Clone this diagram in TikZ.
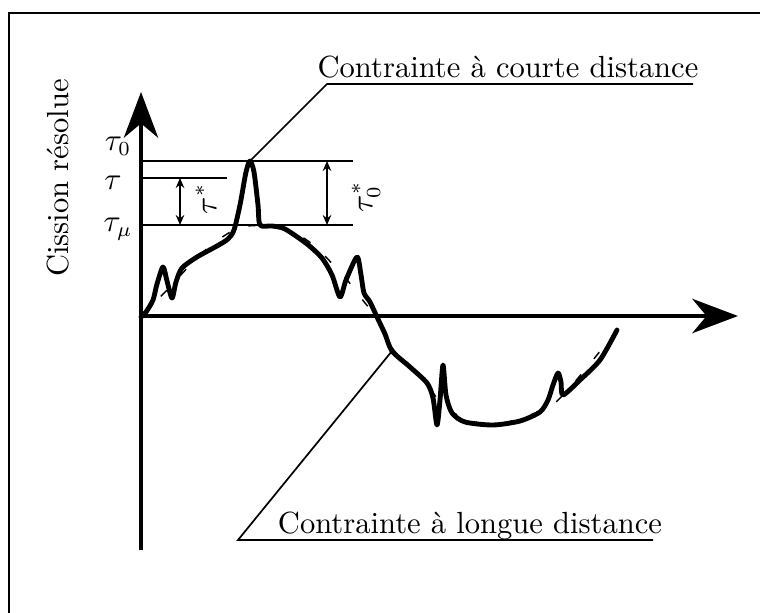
\documentclass[tikz,border=0pt]{standalone}
\usepackage{tikz}
\usetikzlibrary{arrows.meta}

\begin{document}
\begin{tikzpicture}[
  x=0.35pt, y=-0.35pt,
  every node/.style={font=\fontsize{10.7}{13}\selectfont, inner sep=0pt},
  frameline/.style={line width=1pt},
  axis/.style={line width=1.4pt, -{Stealth[length=16pt, width=12pt, inset=5pt]}},
  guide/.style={line width=0.5pt},
  gap/.style={line width=0.5pt, {Stealth[length=3.5pt, width=3pt]}-{Stealth[length=3.5pt, width=3pt]}},
  stress/.style={line width=1.7pt, line join=round, line cap=round},
  longrange/.style={line width=0.5pt, dash pattern=on 3pt off 7pt},
  leader/.style={line width=0.6pt},
]
  \useasboundingbox (0,0) rectangle (760,613);

  % scanned frame (only left and top edges)
  \coordinate (fbl) at (9,613);
  \coordinate (ftl) at (9,13);
  \coordinate (ftr) at (760,13);
  \draw[frameline] (fbl) -- (ftl) -- (ftr);

  % axes
  \coordinate (orig) at (141,316);
  \coordinate (ybot) at (141,550);
  \coordinate (ytip) at (141,92);
  \coordinate (xtip) at (738,316);
  \draw[axis] (ybot) -- (ytip);
  \draw[axis] (orig) -- (xtip);

  \node[rotate=90] (ylabel) at (58,178) {Cission résolue};

  % stress levels
  \coordinate (h0a) at (141,161);  \coordinate (h0b) at (353,161);
  \coordinate (h1a) at (141,178);  \coordinate (h1b) at (227,178);
  \coordinate (h2a) at (141,225);  \coordinate (h2b) at (353,225);
  \draw[guide] (h0a) -- (h0b);
  \draw[guide] (h1a) -- (h1b);
  \draw[guide] (h2a) -- (h2b);

  \node (ltau0)  at (118,146) {$\tau_0$};
  \node (ltau)   at (113,183) {$\tau$};
  \node (ltaumu) at (118,229) {$\tau_\mu$};

  \coordinate (g1t) at (180,178);  \coordinate (g1b) at (180,225);
  \coordinate (g2t) at (327,161);  \coordinate (g2b) at (327,225);
  \draw[gap] (g1t) -- (g1b);
  \draw[gap] (g2t) -- (g2b);
  \node[rotate=90] (lstar)  at (206,199) {$\tau^*$};
  \node[rotate=90] (lstar0) at (366,197) {$\tau^*_0$};

  % long range part, seen under the peaks
  \draw[longrange] plot[smooth, tension=0.6] coordinates {
    (141,317) (167,290) (208,248) (248,226) (300,236) (340,272)
    (365,303) (377,317) (393,349) (427,385) (445,408) (467,418)
    (493,425) (540,411) (565,393) (617,330)};

  % resolved shear stress
  \coordinate (peak) at (250,161);
  \coordinate (knee) at (392,351);
  \draw[stress] plot[smooth, tension=0.45] coordinates {
    (141,317) (146,312) (153,300) (157,284) (163,267) (167,281) (172,298)
    (176,282) (182,268) (197,257) (217,246) (228,239) (234,230) (240,205)
    (246,172) (250,161) (254,172) (258,205) (260,225) (272,226) (285,229)
    (307,244) (322,258) (332,275) (340,297) (346,280) (357,257) (361,275)
    (364,293) (370,302) (377,317) (385,334) (392,351) (410,367) (427,383)
    (433,398) (437,425) (440,400) (443,365) (446,395) (452,413) (465,422)
    (493,425) (520,421) (540,412) (548,400) (553,385) (558,373) (561,382)
    (563,395) (580,380) (600,360) (617,330)};

  % labels with leaders
  \node[anchor=base] (lshort) at (508,78) {Contrainte à courte distance};
  \coordinate (ulshortA) at (327,84);
  \coordinate (ulshortB) at (693,84);
  \draw[leader] (peak) -- (ulshortA) -- (ulshortB);

  \node[anchor=base] (llong) at (470,533) {Contrainte à longue distance};
  \coordinate (ullongA) at (238,540);
  \coordinate (ullongB) at (653,540);
  \draw[leader] (knee) -- (ullongA) -- (ullongB);
\end{tikzpicture}
\end{document}
